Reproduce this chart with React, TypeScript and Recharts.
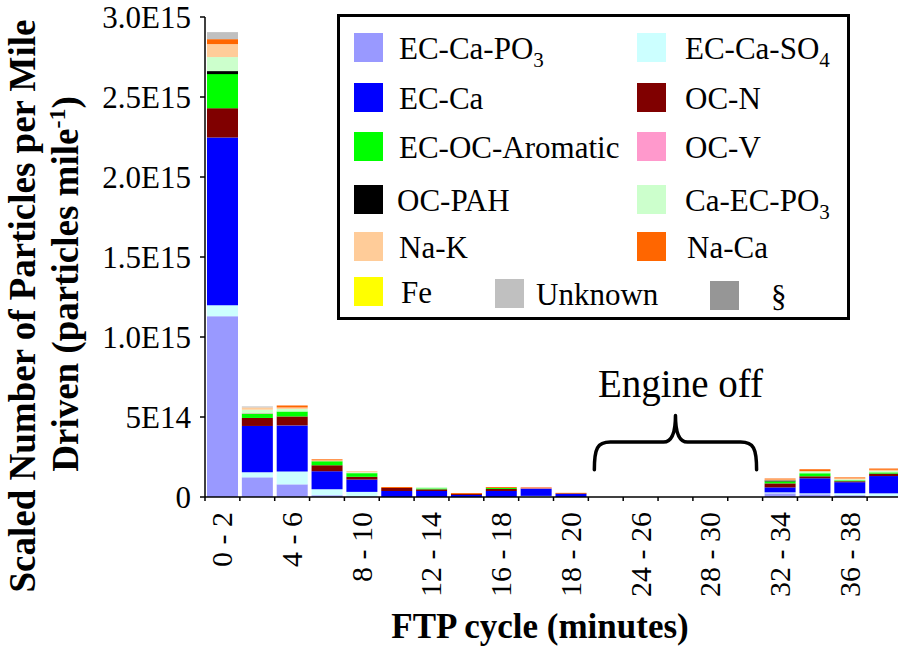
import React from 'react';
import { BarChart, Bar, XAxis, YAxis, Legend, ReferenceArea } from 'recharts';

// FTP cycle time bins (minutes); every other label is printed on the axis
const bins = [
  '0 - 2', '2 - 4', '4 - 6', '6 - 8', '8 - 10', '10 - 12', '12 - 14', '14 - 16', '16 - 18', '17 - 19',
  '18 - 20', '22 - 24', '24 - 26', '26 - 28', '28 - 30', '30 - 32', '32 - 34', '34 - 36', '36 - 38', '38 - 40',
];

// particle classes, particles per mile driven (null = engine off)
const ecCaPO3 = [1.13e15, 1.23e14, 7.9e13, 1.1e13, 3e12, 0, 0, 0, 0, 3e12, 0, null, null, null, null, null, 2.3e13, 1.7e13, 1.1e13, 4e12];
const ecCaSO4 = [6.9e13, 3.1e13, 8.1e13, 3.75e13, 2.9e13, 0, 0, 0, 0, 4e12, 0, null, null, null, null, null, 6e12, 6e12, 1.25e13, 1.9e13];
const ecCa = [1.048e15, 2.9e14, 2.875e14, 1.125e14, 7.7e13, 3.75e13, 3.75e13, 1.25e13, 3.75e13, 4.4e13, 1.9e13, null, null, null, null, null, 3.1e13, 9.4e13, 6.9e13, 1.08e14];
const ocN = [1.83e14, 5e13, 5.6e13, 3.75e13, 1.7e13, 1.9e13, 1.06e13, 6e12, 1.25e13, 3e12, 4e12, null, null, null, null, null, 2.5e13, 1.25e13, 6e12, 1.5e13];
const ecOcAromatic = [2.13e14, 2.75e13, 3.1e13, 2.5e13, 2.3e13, 0, 6e12, 0, 6e12, 0, 0, null, null, null, null, null, 1.25e13, 1.9e13, 6e12, 8e12];
const ocPAH = [1.9e13, 0, 0, 0, 0, 0, 0, 0, 0, 0, 0, null, null, null, null, null, 6e12, 0, 0, 0];
const ocV = [0, 3e12, 0, 0, 0, 0, 0, 0, 0, 5e12, 0, null, null, null, null, null, 0, 0, 0, 0];
const caEcPO3 = [8.75e13, 2.1e13, 1.6e13, 0, 5e12, 0, 8e12, 0, 0, 0, 0, null, null, null, null, null, 0, 1.25e13, 6e12, 8e12];
const naK = [8.1e13, 1.45e13, 9e12, 6e12, 8e12, 0, 0, 0, 0, 0, 0, null, null, null, null, null, 6e12, 0, 6e12, 8e12];
const naCa = [3.1e13, 0, 1.25e13, 6e12, 0, 6e12, 0, 6e12, 6e12, 3e12, 3e12, null, null, null, null, null, 6e12, 1.25e13, 6e12, 8e12];
const fe = [0, 0, 0, 0, 0, 0, 0, 0, 0, 0, 0, null, null, null, null, null, 0, 0, 0, 0];
const unknown = [4.4e13, 6e12, 0, 0, 0, 0, 0, 0, 0, 0, 0, null, null, null, null, null, 0, 0, 0, 0];
const section = [0, 0, 0, 0, 0, 0, 0, 0, 0, 0, 0, null, null, null, null, null, 0, 0, 0, 0];

// y axis ticks and their printed labels
const yTicks = [0, 5e14, 1e15, 1.5e15, 2e15, 2.5e15, 3e15];
const yTickLabels = ['0', '5E14', '1.0E15', '1.5E15', '2.0E15', '2.5E15', '3.0E15'];

// engine-off brace extent (value range on the y axis, first/last bin)
const braceBins = [bins[11], bins[15]];
const braceRange = [1.7e14, 5.1e14];

// stacking order, bottom to top
const series = [
  { key: 'ecCaPO3', name: 'EC-Ca-PO3', color: '#9999FF', values: ecCaPO3 },
  { key: 'ecCaSO4', name: 'EC-Ca-SO4', color: '#CCFFFF', values: ecCaSO4 },
  { key: 'ecCa', name: 'EC-Ca', color: '#0000FF', values: ecCa },
  { key: 'ocN', name: 'OC-N', color: '#800000', values: ocN },
  { key: 'ecOcAromatic', name: 'EC-OC-Aromatic', color: '#00FF00', values: ecOcAromatic },
  { key: 'ocPAH', name: 'OC-PAH', color: '#000000', values: ocPAH },
  { key: 'ocV', name: 'OC-V', color: '#FF99CC', values: ocV },
  { key: 'caEcPO3', name: 'Ca-EC-PO3', color: '#CCFFCC', values: caEcPO3 },
  { key: 'naK', name: 'Na-K', color: '#FFCC99', values: naK },
  { key: 'naCa', name: 'Na-Ca', color: '#FF6600', values: naCa },
  { key: 'fe', name: 'Fe', color: '#FFFF00', values: fe },
  { key: 'unknown', name: 'Unknown', color: '#C0C0C0', values: unknown },
  { key: 'section', name: '§', color: '#969696', values: section },
];

const data = bins.map((bin, i) => {
  const row: Record<string, any> = { bin };
  series.forEach((s) => {
    row[s.key] = s.values[i];
  });
  return row;
});

const SERIF = 'Liberation Serif, Times New Roman, DejaVu Serif, serif';
const serifStyle = { fontFamily: SERIF };
const CHART_W = 920;
const CHART_H = 648;
const Y_AXIS_W = 205;
const RIGHT_M = 18;
const BAND = (CHART_W - Y_AXIS_W - RIGHT_M) / bins.length;

function XTick(props: any) {
  const { x, y, payload } = props;
  const idx = bins.indexOf(payload.value);
  const edge = x - BAND / 2;
  const ty = y + 15;
  return (
    <g>
      <line x1={edge} y1={y} x2={edge} y2={y + 4} stroke="#000" strokeWidth={1.5} />
      {idx % 2 === 0 && (
        <text
          x={x}
          y={ty}
          transform={`rotate(-90, ${x}, ${ty})`}
          textAnchor="end"
          dy="0.33em"
          style={serifStyle}
          fontSize={30}
          fill="#000"
        >
          {payload.value}
        </text>
      )}
    </g>
  );
}

function YTitle() {
  return (
    <g style={serifStyle} fontWeight="bold" fill="#000" fontSize={37}>
      <text x={35} y={306} transform="rotate(-90, 35, 306)" textAnchor="middle" style={serifStyle}>
        Scaled Number of Particles per Mile
      </text>
      <text x={78} y={284} transform="rotate(-90, 78, 284)" textAnchor="middle" style={serifStyle}>
        Driven (particles mile<tspan dy={-13} fontSize={24}>-1</tspan>
        <tspan dy={13}>)</tspan>
      </text>
    </g>
  );
}

function XTitle() {
  return (
    <text x={540} y={638} textAnchor="middle" style={serifStyle} fontWeight="bold" fontSize={35} fill="#000">
      FTP cycle (minutes)
    </text>
  );
}

function Brace(props: any) {
  const { x, y, width, height } = props;
  const L = x + 6;
  const R = x + width - 6;
  const M = x + width / 2;
  const T = y;
  const B = y + height;
  const A = T + height * 0.49;
  const d = [
    `M ${L} ${B}`,
    `C ${L} ${A + 6} ${L + 3} ${A} ${L + 16} ${A}`,
    `L ${M - 12} ${A}`,
    `C ${M - 4} ${A} ${M} ${A - 8} ${M} ${T}`,
    `C ${M} ${A - 8} ${M + 4} ${A} ${M + 12} ${A}`,
    `L ${R - 16} ${A}`,
    `C ${R - 3} ${A} ${R} ${A + 6} ${R} ${B}`,
  ].join(' ');
  return (
    <g>
      <path d={d} fill="none" stroke="#000" strokeWidth={3.5} strokeLinecap="round" strokeLinejoin="round" />
      <text x={M + 5} y={T - 18} textAnchor="middle" style={serifStyle} fontSize={39} fill="#000">
        Engine off
      </text>
    </g>
  );
}

function nameWithSub(name: string) {
  const m = name.match(/^(.*?)(\d)$/);
  if (!m) return name;
  return (
    <>
      {m[1]}
      <tspan dy={8} fontSize={21}>{m[2]}</tspan>
    </>
  );
}

function LegendBox() {
  const byKey: Record<string, { name: string; color: string }> = {};
  series.forEach((s) => (byKey[s.key] = s));
  const entries = [
    { key: 'ecCaPO3', sx: 17, sy: 19, tx: 62 },
    { key: 'ecCaSO4', sx: 300, sy: 19, tx: 348 },
    { key: 'ecCa', sx: 17, sy: 69, tx: 62 },
    { key: 'ocN', sx: 300, sy: 69, tx: 348 },
    { key: 'ecOcAromatic', sx: 17, sy: 118, tx: 62 },
    { key: 'ocV', sx: 300, sy: 118, tx: 348 },
    { key: 'ocPAH', sx: 17, sy: 171, tx: 60 },
    { key: 'caEcPO3', sx: 300, sy: 171, tx: 348 },
    { key: 'naK', sx: 17, sy: 218, tx: 62 },
    { key: 'naCa', sx: 300, sy: 218, tx: 350 },
    { key: 'fe', sx: 17, sy: 263, tx: 64 },
    { key: 'unknown', sx: 158, sy: 265, tx: 199 },
    { key: 'section', sx: 373, sy: 267, tx: 434 },
  ];
  return (
    <svg width={513} height={306} style={{ display: 'block' }}>
      <rect x={1.5} y={1.5} width={510} height={303} fill="#fff" stroke="#000" strokeWidth={3} />
      {entries.map((e) => (
        <g key={e.key}>
          <rect x={e.sx} y={e.sy} width={29} height={29} fill={byKey[e.key].color} />
          <text x={e.tx} y={e.sy + 26} style={serifStyle} fontSize={31} fill="#000">
            {nameWithSub(byKey[e.key].name)}
          </text>
        </g>
      ))}
    </svg>
  );
}

export default function App() {
  return (
    <div
      style={{
        position: 'absolute',
        left: 0,
        top: 0,
        width: 898,
        height: 648,
        overflow: 'hidden',
        background: '#fff',
        fontFamily: SERIF,
      }}
    >
      <BarChart
        width={CHART_W}
        height={CHART_H}
        data={data}
        margin={{ top: 17, right: RIGHT_M, bottom: 0, left: 0 }}
        barCategoryGap={2}
        style={serifStyle}
      >
        <XAxis
          dataKey="bin"
          height={151}
          interval={0}
          tickLine={false}
          tickSize={0}
          tickMargin={0}
          tick={<XTick />}
          axisLine={{ stroke: '#000', strokeWidth: 1.5 }}
          label={<XTitle />}
        />
        <YAxis
          width={Y_AXIS_W}
          domain={[0, 3e15]}
          ticks={yTicks}
          interval={0}
          tickFormatter={(v: number) => yTickLabels[yTicks.indexOf(v)]}
          tick={{ fill: '#000', fontSize: 31, style: serifStyle }}
          tickSize={5}
          tickMargin={9}
          tickLine={{ stroke: '#000', strokeWidth: 1.5 }}
          axisLine={{ stroke: '#000', strokeWidth: 1.5 }}
          label={<YTitle />}
        />
        {series.map((s) => (
          <Bar key={s.key} dataKey={s.key} name={s.name} stackId="a" fill={s.color} isAnimationActive={false} />
        ))}
        <ReferenceArea
          x1={braceBins[0]}
          x2={braceBins[1]}
          y1={braceRange[0]}
          y2={braceRange[1]}
          ifOverflow="visible"
          shape={<Brace />}
        />
        <Legend
          layout="vertical"
          align="center"
          verticalAlign="middle"
          wrapperStyle={{ left: 337, top: 14, width: 513, height: 306 }}
          content={<LegendBox />}
        />
      </BarChart>
    </div>
  );
}
